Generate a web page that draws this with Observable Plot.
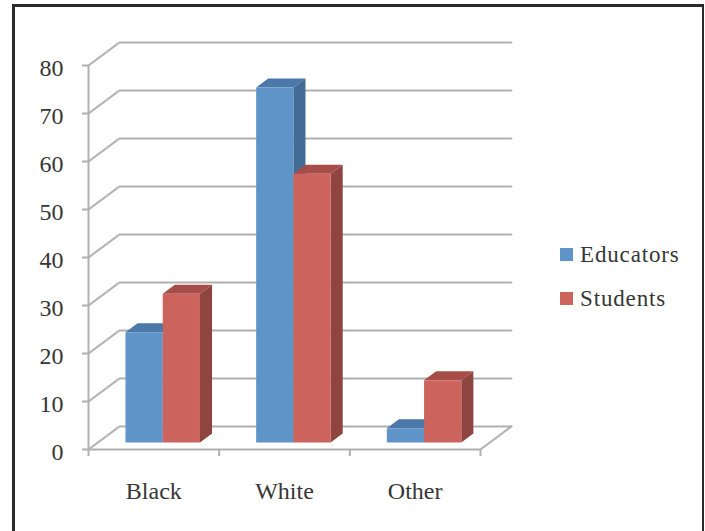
<!DOCTYPE html>
<html>
<head>
<meta charset="utf-8">
<script src="https://cdn.jsdelivr.net/npm/d3@7"></script>
<script src="https://cdn.jsdelivr.net/npm/@observablehq/plot@0.6"></script>
<style>
  html, body { margin: 0; padding: 0; background: #fff; }
  #chart { position: relative; width: 705px; height: 531px; overflow: hidden; }
  #frame { position: absolute; left: 12px; top: 4px; width: 687px; height: 540px; border: 3px solid #2b2b2b; border-right-width: 2px; }
  #legend { position: absolute; left: 560px; top: 233px; font: 23px "Liberation Serif", serif; color: #363636; letter-spacing: 0.85px; }
  #legend div { display: flex; align-items: center; height: 44px; }
  #legend i { display: inline-block; width: 13px; height: 13px; margin-right: 7px; position: relative; top: -1px; }
  svg { position: absolute; left: 0; top: 0; }
</style>
</head>
<body>
<div id="chart"><div id="frame"></div></div>
<script>
const categories = ["Black", "White", "Other"];
const educators = [23, 74, 3];
const students = [31, 56, 13];
const valueTicks = [0, 10, 20, 30, 40, 50, 60, 70, 80];
const categoryTicks = [0, 1, 2, 3];
const seriesNames = ["Educators", "Students"];

const colors = {
  Educators: {front: "#5f94c9", top: "#4b78a8", side: "#426b96"},
  Students: {front: "#cc635c", top: "#a64d47", side: "#8e4540"}
};
const gridColor = "#b0b0b0";
const textColor = "#363636";

// Oblique projection: depth 0 is the front plane, depth 1 the back wall.
const depthX = 0.237;
const depthY = 4.8;
const project = (u, v, d) => ({x: u + d * depthX, y: v + d * depthY});

const barNear = 0.3;
const barFar = 0.69;
const slots = {Educators: [0.212, 0.497], Students: [0.497, 0.782]};

// Each bar is three faces, painted back to front.
const faces = [];
categories.forEach((cat, i) => {
  seriesNames.forEach((name, s) => {
    const value = (s === 0 ? educators : students)[i];
    const [a, b] = slots[name].map(t => i + t);
    const c = colors[name];
    const add = (face, pts) => pts.forEach(p =>
      faces.push({id: `${cat}-${name}-${face}`, fill: c[face], ...p}));
    add("side", [project(b, 0, barNear), project(b, 0, barFar), project(b, value, barFar), project(b, value, barNear)]);
    add("top", [project(a, value, barNear), project(b, value, barNear), project(b, value, barFar), project(a, value, barFar)]);
    add("front", [project(a, 0, barNear), project(b, 0, barNear), project(b, value, barNear), project(a, value, barNear)]);
  });
});

// Gridlines run from the axis, back along the side wall, then across the back wall.
const grid = valueTicks.flatMap(v => [
  {v, ...project(0, v, 0)},
  {v, ...project(0, v, 1)},
  {v, ...project(categories.length, v, 1)}
]);
const floor = [project(categories.length, 0, 1), project(categories.length, 0, 0), project(0, 0, 0)];

const plot = Plot.plot({
  width: 705,
  height: 531,
  marginLeft: 88, marginRight: 225, marginTop: 65, marginBottom: 82,
  x: {domain: [0, 3], label: null},
  y: {domain: [0, 80], label: null},
  style: {background: "transparent", fontFamily: "'Liberation Serif', serif", overflow: "visible"},
  marks: [
    Plot.line(grid, {x: "x", y: "y", z: "v", stroke: gridColor, strokeWidth: 2}),
    Plot.line(floor, {x: "x", y: "y", stroke: gridColor, strokeWidth: 2}),
    Plot.ruleX([0], {y1: 0, y2: 80, stroke: gridColor, strokeWidth: 2}),
    Plot.axisY({
      ticks: valueTicks, tickSize: 6, stroke: gridColor, strokeWidth: 2, label: null, text: null
    }),
    Plot.axisY({
      ticks: valueTicks, tickSize: 0, tickPadding: 25, label: null,
      fontSize: 24, fill: textColor, tickFormat: d3.format("d"), dy: 3
    }),
    Plot.axisX({
      ticks: categoryTicks, tickSize: 7, stroke: gridColor, strokeWidth: 2, label: null, text: null
    }),
    Plot.line(faces, {x: "x", y: "y", z: "id", fill: "fill", stroke: "none"}),
    Plot.text(categories, {
      x: (d, i) => i + 0.5, y: () => 0, text: d => d, dy: 42,
      fontSize: 24, fill: textColor, letterSpacing: "0.3px"
    })
  ]
});
const chart = document.getElementById("chart");
chart.appendChild(plot);

// Legend sits to the right of the plot area.
const legend = document.createElement("div");
legend.id = "legend";
seriesNames.forEach(name => {
  const row = document.createElement("div");
  const swatch = document.createElement("i");
  swatch.style.background = colors[name].front;
  row.appendChild(swatch);
  row.appendChild(document.createTextNode(name));
  legend.appendChild(row);
});
chart.appendChild(legend);
</script>
</body>
</html>
